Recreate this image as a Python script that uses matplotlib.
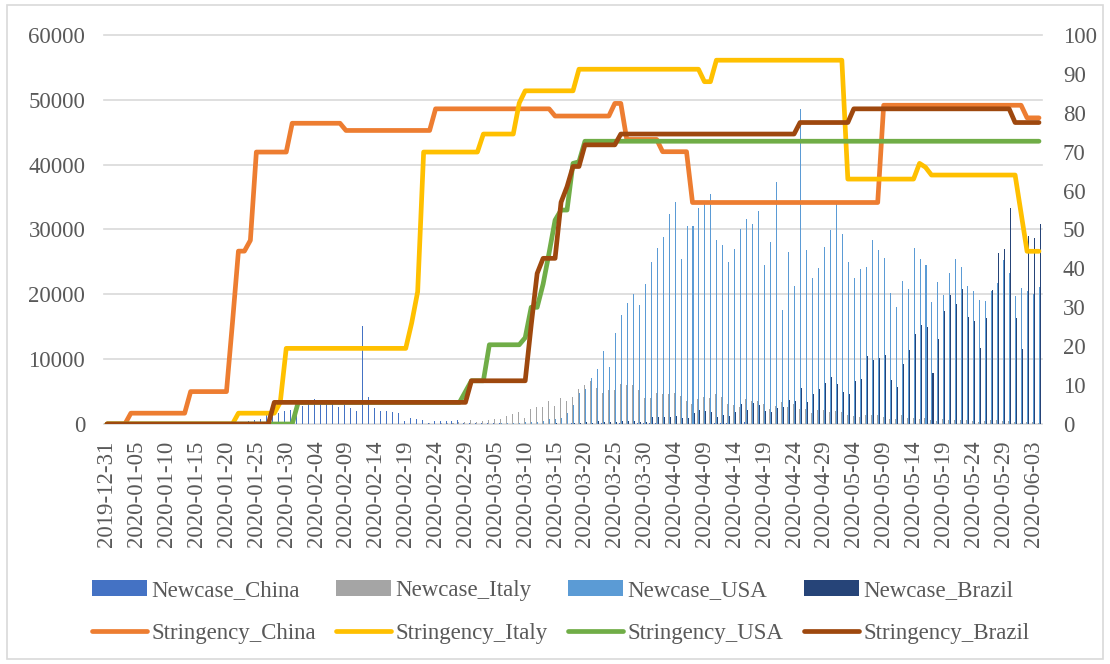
import matplotlib
matplotlib.use('Agg')
import matplotlib.pyplot as plt
from matplotlib.patches import Rectangle
import numpy as np
import pandas as pd

# daily categories, 2019-12-31 .. 2020-06-04
dates = pd.date_range('2019-12-31', '2020-06-04', freq='D')
tick_idx = list(range(0, len(dates), 5))
tick_labels = [dates[i].strftime('%Y-%m-%d') for i in tick_idx]

# new cases per day
newcase_china = [
    0, 0, 17, 0, 15, 0, 0, 0, 0, 0, 0, 0, 0, 0, 0, 0, 4, 17, 136, 19, 151, 140, 97, 259, 441, 665, 787, 1753, 1466, 1740, 1980,
    2095, 2590, 2812, 3237, 3872, 3727, 3160, 3418, 2607, 2974, 2490, 2028, 15141, 4156, 2538, 2007, 2052, 1890, 1750, 394,
    891, 826, 647, 218, 515, 410, 439, 431, 574,
    205, 127, 119, 117, 143, 146, 102, 46, 45, 20, 31, 26, 11, 18, 27, 29, 39, 39, 78, 47, 67, 55, 54, 98, 53, 74, 81, 75, 68, 93, 79,
    86, 94, 64, 31, 41, 39, 34, 66, 57, 43, 50, 100, 104, 89, 46, 49, 352, 27, 18, 12, 11, 30, 10, 12, 12, 11, 3, 6, 22, 4,
    12, 1, 2, 3, 1, 2, 4, 2, 1, 14, 17, 1, 7, 3, 4, 8, 5, 7, 6, 5, 2, 3, 4, 3, 11, 7, 2, 2, 2, 4, 3,
    18, 6, 5, 1, 1,
]
newcase_italy = [
    0, 0, 0, 0, 0, 0, 0, 0, 0, 0, 0, 0, 0, 0, 0, 0, 0, 0, 0, 0, 0, 0, 0, 0, 0, 0, 0, 0, 0, 0, 3,
    0, 0, 0, 0, 0, 0, 0, 0, 0, 0, 0, 0, 0, 0, 0, 0, 0, 0, 0, 0, 0, 17, 58, 78, 72, 94, 147, 185, 234,
    239, 573, 335, 466, 587, 769, 778, 1247, 1492, 1797, 977, 2313, 2651, 2547, 3497, 2823, 4000, 3526, 4207, 5322, 5986,
    6557, 5560, 4789, 5249, 5210, 6153, 5959, 5974, 5217, 4050,
    4053, 4782, 4668, 4585, 4805, 4316, 3599, 3039, 3836, 4204, 3951, 4694, 4092, 3153, 2972, 2667, 3786, 3493, 3491, 3047,
    2256, 2729, 3370, 2646, 3021, 2357, 2324, 1739, 2091, 2086,
    1872, 1965, 1900, 1389, 1221, 1075, 1444, 1401, 1327, 1083, 802, 744, 1402, 888, 992, 789, 875, 675, 451, 813,
    665, 642, 652, 669, 531, 300, 397, 584, 593, 516, 416,
    355, 178, 318, 321, 177,
]
newcase_usa = [
    0, 0, 0, 0, 0, 0, 0, 0, 0, 0, 0, 0, 0, 0, 0, 0, 0, 0, 0, 0, 1, 0, 0, 1, 0, 3, 0, 0, 0, 0, 1,
    1, 1, 3, 0, 0, 1, 0, 0, 0, 0, 1, 0, 1, 0, 0, 0, 0, 0, 0, 0, 0, 19, 0, 0, 0, 0, 6, 1, 0,
    3, 0, 5, 22, 34, 74, 105, 95, 121, 200, 271, 287, 351, 511, 777, 823, 887, 1766, 2988, 4835, 5374,
    7123, 8459, 11236, 8789, 13963, 16797, 18695, 19979, 18360, 21595,
    24998, 27103, 28819, 32425, 34272, 25398, 30561, 30613, 33323, 33901, 35527, 28391, 27620, 25023, 26922,
    30148, 31667, 30833, 32922, 24601, 28065, 37289, 17588, 26543, 21352, 48529, 26857, 22541, 24132, 27326,
    29917, 33955, 29288, 24972, 22593, 23841, 24252, 28420, 26906, 25612, 20258, 18117, 22048, 20782, 27143,
    25508, 24487, 18873, 21841, 19970, 23285, 25434, 24147, 21236, 20568, 19064, 19031, 20475, 21773, 25337, 23297,
    19750, 20900, 20500, 20000, 21200,
]
newcase_brazil = [
    0, 0, 0, 0, 0, 0, 0, 0, 0, 0, 0, 0, 0, 0, 0, 0, 0, 0, 0, 0, 0, 0, 0, 0, 0, 0, 0, 0, 0, 0, 0,
    0, 0, 0, 0, 0, 0, 0, 0, 0, 0, 0, 0, 0, 0, 0, 0, 0, 0, 0, 0, 0, 0, 0, 0, 0, 1, 0, 0, 0,
    1, 0, 0, 0, 1, 4, 5, 6, 0, 6, 0, 18, 25, 21, 23, 79, 34, 57, 137, 193, 283, 224, 418, 345, 310, 232, 482, 502, 487, 352, 323,
    1138, 1119, 1074, 1146, 1222, 852, 926, 1661, 2210, 1930, 1781, 1089, 1442, 1261, 1832, 3058, 2105, 3257, 2917, 2055,
    1927, 2498, 2678, 3735, 3503, 5514, 3379, 4613, 5385, 6276,
    7218, 6209, 4970, 4588, 6633, 6935, 10503, 9888, 10222, 10611, 6760, 5632, 9258, 11385, 13944, 15305, 14919, 7938,
    13140, 17408, 19951, 18508, 20803, 16508, 15813, 11687, 16324, 20599, 26417, 26928, 33274,
    16409, 11598, 28936, 28633, 30925,
]

# stringency index, step-wise per day
stringency_china = ([0] * 4 + [2.78] * 10 + [8.33] * 7 + [26.0] + [44.44] * 2 + [47.22] + [69.91] * 6
                    + [77.31] * 9 + [75.46] * 15 + [81.02] * 20 + [79.17] * 10 + [82.41] * 2 + [73.15] * 6
                    + [70.0] * 5 + [56.94] * 32 + [81.94] * 24 + [78.7] * 3)
stringency_italy = ([0] * 22 + [2.78] * 7 + [5.56] + [19.44] * 21 + [26.0] + [34.0] + [69.91] * 10
                    + [74.54] * 6 + [82.5] + [85.65] * 9 + [91.2] * 21 + [88.0] * 2 + [93.52] * 22
                    + [62.96] * 12 + [67.0] + [66.0] + [64.0] * 15 + [54.2] + [44.4] * 3)
stringency_usa = ([0] * 32 + [5.56] * 28 + [8.33] + [11.11] * 3 + [20.37] * 6 + [22.2] + [30.0] * 2
                  + [36.0] + [44.0] + [52.4] + [55.0] * 2 + [67.0] + [67.4] + [72.69] * 77)
stringency_brazil = ([0] * 28 + [5.56] * 33 + [11.11] * 10 + [25.4] + [38.7] + [42.59] * 3 + [57.0]
                     + [61.0] + [66.2] * 2 + [71.76] * 6 + [74.54] * 30 + [77.5] * 9 + [81.02] * 27 + [77.5] * 5)

bar_series = [
    (newcase_china, '#4472C4', 'Newcase_China'),
    (newcase_italy, '#A5A5A5', 'Newcase_Italy'),
    (newcase_usa, '#5B9BD5', 'Newcase_USA'),
    (newcase_brazil, '#264478', 'Newcase_Brazil'),
]
line_series = [
    (stringency_china, '#ED7D31', 'Stringency_China'),
    (stringency_italy, '#FFC000', 'Stringency_Italy'),
    (stringency_usa, '#70AD47', 'Stringency_USA'),
    (stringency_brazil, '#9E480E', 'Stringency_Brazil'),
]

plt.rcParams['font.family'] = ['Liberation Serif', 'DejaVu Serif']
text_color = '#595959'
fs = 16.5

W, H = 1110, 664
fig = plt.figure(figsize=(W / 100, H / 100), dpi=100)
ax = fig.add_axes([104 / W, 1 - 424 / H, (1042 - 104) / W, (424 - 35) / H])
ax2 = ax.twinx()

x = np.arange(len(dates))
bw = 0.17
bar_handles = []
for k, (vals, col, lab) in enumerate(bar_series):
    b = ax.bar(x + (k - 1.5) * bw, vals, width=bw, color=col, linewidth=0, label=lab)
    bar_handles.append(b)

line_handles = []
for vals, col, lab in line_series:
    ln, = ax2.plot(x, vals, color=col, lw=3.4, solid_joinstyle='round', solid_capstyle='round', label=lab)
    line_handles.append(ln)

ax.set_xlim(-0.5, len(dates) - 0.5)
ax.set_ylim(0, 60000)
ax.set_yticks(range(0, 60001, 10000))
ax2.set_ylim(0, 100)
ax2.set_yticks(range(0, 101, 10))

ax.grid(axis='y', color='#D9D9D9', linewidth=1.2)
ax.set_axisbelow(True)
for gl in ax.get_ygridlines():
    gl.set_clip_on(False)

ax.set_xticks(tick_idx)
ax.set_xticklabels(tick_labels, rotation=90)
ax.tick_params(axis='x', length=0, pad=12, labelsize=fs, labelcolor=text_color)
ax.tick_params(axis='y', length=0, pad=13.5, labelsize=fs, labelcolor=text_color)
ax2.tick_params(axis='y', length=0, pad=15, labelsize=fs, labelcolor=text_color)

for a in (ax, ax2):
    for s in a.spines.values():
        s.set_visible(False)

# legend: newcase row on top, stringency row below
order = []
for b, ln in zip(bar_handles, line_handles):
    order += [b, ln]
leg = fig.legend(order, [h.get_label() for h in order], ncol=4, loc='upper left',
                 bbox_to_anchor=(92 / W, 1 - 580 / H), frameon=False, fontsize=fs,
                 handlelength=2.4, handleheight=0.7, handletextpad=0.18,
                 columnspacing=0.9, labelspacing=0.95, borderpad=0, borderaxespad=0)
for t in leg.get_texts():
    t.set_color(text_color)

# chart border
fig.patches.append(Rectangle((7 / W, 5 / H), (1103 - 7) / W, (659 - 5) / H, transform=fig.transFigure,
                             fill=False, edgecolor='#D9D9D9', linewidth=1.2))

fig.savefig('out.png', dpi=100)
